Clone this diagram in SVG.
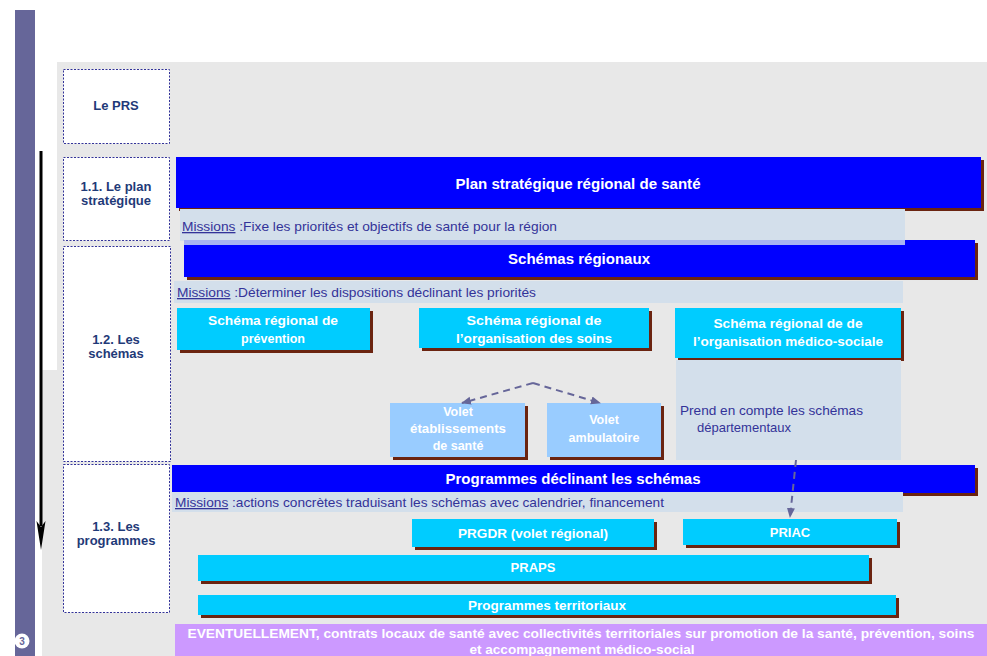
<svg xmlns="http://www.w3.org/2000/svg" width="987" height="656" viewBox="0 0 987 656">
<style>
.lbl{fill:#fff;stroke:#333399;stroke-width:1;stroke-dasharray:2 1.5}
.lt{font-family:"Liberation Sans",Arial,sans-serif;font-weight:bold;font-size:13px;fill:#1f3a78;text-anchor:middle}
.blue{fill:#0000ff}
.sh{fill:#6b2410}
.cyan{fill:#00ccff}
.volet{fill:#99ccff}
.band{fill:#d3dfeb}
.wt{font-family:"Liberation Sans",Arial,sans-serif;font-weight:bold;fill:#fff;text-anchor:middle}
.mt{font-family:"Liberation Sans",Arial,sans-serif;font-size:13px;fill:#333399}
.dash{stroke:#666699;stroke-width:2;stroke-dasharray:7 5;fill:none}
</style>
<defs>
<marker id="ah" markerWidth="10" markerHeight="10" refX="9" refY="5" orient="auto" markerUnits="userSpaceOnUse">
<path d="M0,1 L10,5 L0,9 Z" fill="#666699"/>
</marker>
</defs>
<rect width="987" height="656" fill="#fff"/>
<rect x="57" y="62" width="930" height="594" fill="#e8e8e8"/>
<rect x="42" y="370" width="15" height="286" fill="#e8e8e8"/>
<rect x="15" y="10" width="20" height="646" fill="#666699"/>
<rect x="35" y="600" width="7" height="56" fill="#fff"/>
<circle cx="22" cy="641" r="7.5" fill="#fff"/>
<text x="22" y="645" font-family="Liberation Sans,Arial,sans-serif" font-size="10" font-weight="bold" fill="#666699" text-anchor="middle">3</text>
<g id="timeline">
<line x1="41" y1="151" x2="41" y2="526" stroke="#000" stroke-width="3"/>
<path d="M36.5,521 L41,550 L45.5,521 L41,527 Z" fill="#000"/>
</g>

<g id="le-prs"><rect class="lbl" x="63.5" y="69.5" width="106" height="74"/><text class="lt" x="116" y="110">Le PRS</text></g>
<g id="plan-strat-label"><rect class="lbl" x="63.5" y="157.5" width="106" height="83"/><text class="lt" x="116" y="191">1.1. Le plan</text><text class="lt" x="116" y="205">stratégique</text></g>
<g id="schemas-label"><rect class="lbl" x="63.5" y="246.5" width="107" height="215"/><text class="lt" x="116" y="344">1.2. Les</text><text class="lt" x="116" y="358">schémas</text></g>
<g id="programmes-label"><rect class="lbl" x="63.5" y="464.5" width="106" height="148"/><text class="lt" x="116" y="531">1.3. Les</text><text class="lt" x="116" y="545">programmes</text></g>

<g id="plan-strategique">
<rect class="sh" x="179" y="160" width="805" height="51"/>
<rect class="blue" x="176" y="157" width="805" height="51"/>
<text class="wt" x="578" y="189" font-size="14" textLength="245" lengthAdjust="spacingAndGlyphs">Plan stratégique régional de santé</text>
</g>
<g id="missions-1">
<rect class="band" x="180" y="209" width="725" height="32"/>
<text class="mt" x="182" y="231" textLength="375" lengthAdjust="spacingAndGlyphs"><tspan text-decoration="underline">Missions</tspan> :Fixe les priorités et objectifs de santé pour la région</text>
</g>
<g id="schemas-regionaux">
<rect class="sh" x="187" y="243" width="791" height="37"/>
<rect class="blue" x="184" y="240" width="791" height="37"/>
<rect x="184" y="240" width="721" height="5" fill="#a9b3f2"/>
<text class="wt" x="579" y="264" font-size="14" textLength="142" lengthAdjust="spacingAndGlyphs">Schémas régionaux</text>
</g>
<g id="missions-2">
<rect class="band" x="174" y="281" width="729" height="22"/>
<text class="mt" x="177" y="297" textLength="359" lengthAdjust="spacingAndGlyphs"><tspan text-decoration="underline">Missions</tspan> :Déterminer les dispositions déclinant les priorités</text>
</g>
<g id="schema-prevention">
<rect class="sh" x="180" y="311" width="193" height="42"/>
<rect class="cyan" x="177" y="308" width="193" height="42"/>
<text class="wt" x="273" y="325" font-size="12.5" textLength="130" lengthAdjust="spacingAndGlyphs">Schéma régional de</text>
<text class="wt" x="273" y="343" font-size="12.5">prévention</text>
</g>
<g id="schema-soins">
<rect class="sh" x="422" y="311" width="230" height="40"/>
<rect class="cyan" x="419" y="308" width="230" height="40"/>
<text class="wt" x="534" y="325" font-size="12.5" textLength="135" lengthAdjust="spacingAndGlyphs">Schéma  régional de</text>
<text class="wt" x="534" y="343" font-size="12.5" textLength="156" lengthAdjust="spacingAndGlyphs">l’organisation des soins</text>
</g>
<g id="schema-medico-social">
<rect class="sh" x="678" y="311" width="226" height="50"/>
<rect class="cyan" x="675" y="308" width="226" height="50"/>
<text class="wt" x="788" y="328" font-size="12.5" textLength="149" lengthAdjust="spacingAndGlyphs">Schéma régional de de</text>
<text class="wt" x="788" y="346" font-size="12.5" textLength="190" lengthAdjust="spacingAndGlyphs">l’organisation médico-sociale</text>
</g>
<g id="note-departementaux">
<rect class="band" x="676" y="360" width="225" height="100"/>
<text class="mt" x="680" y="415" textLength="183" lengthAdjust="spacingAndGlyphs">Prend en compte les schémas</text>
<text class="mt" x="697" y="432">départementaux</text>
</g>
<g id="volet-etablissements">
<rect class="sh" x="393" y="406" width="135" height="54"/>
<rect class="volet" x="390" y="403" width="135" height="54"/>
<text class="wt" x="458" y="416" font-size="12.5">Volet</text>
<text class="wt" x="458" y="433" font-size="12.5" textLength="96" lengthAdjust="spacingAndGlyphs">établissements</text>
<text class="wt" x="458" y="450" font-size="12.5">de santé</text>
</g>
<g id="volet-ambulatoire">
<rect class="sh" x="550" y="406" width="114" height="54"/>
<rect class="volet" x="547" y="403" width="114" height="54"/>
<text class="wt" x="604" y="424" font-size="12.5">Volet</text>
<text class="wt" x="604" y="442" font-size="12.5">ambulatoire</text>
</g>
<g id="programmes-declinant">
<rect class="sh" x="175" y="468" width="803" height="28"/>
<rect class="blue" x="172" y="465" width="803" height="28"/>
<text class="wt" x="573" y="484" font-size="14" textLength="255" lengthAdjust="spacingAndGlyphs">Programmes déclinant les schémas</text>
</g>
<g id="missions-3">
<rect class="band" x="172" y="492" width="731" height="20"/>
<text class="mt" x="175" y="507" textLength="489" lengthAdjust="spacingAndGlyphs"><tspan text-decoration="underline">Missions</tspan> :actions concrètes traduisant les schémas avec calendrier, financement</text>
</g>
<g id="prgdr">
<rect class="sh" x="415" y="522" width="242" height="28"/>
<rect class="cyan" x="412" y="519" width="242" height="28"/>
<text class="wt" x="533" y="538" font-size="13" textLength="150" lengthAdjust="spacingAndGlyphs">PRGDR (volet régional)</text>
</g>
<g id="priac">
<rect class="sh" x="686" y="522" width="214" height="26"/>
<rect class="cyan" x="683" y="519" width="214" height="26"/>
<text class="wt" x="790" y="537" font-size="13">PRIAC</text>
</g>
<g id="praps">
<rect class="sh" x="201" y="558" width="671" height="26"/>
<rect class="cyan" x="198" y="555" width="671" height="26"/>
<text class="wt" x="533" y="572" font-size="13">PRAPS</text>
</g>
<g id="programmes-territoriaux">
<rect class="sh" x="201" y="598" width="698" height="20"/>
<rect class="cyan" x="198" y="595" width="698" height="20"/>
<text class="wt" x="547" y="610" font-size="13" textLength="158" lengthAdjust="spacingAndGlyphs">Programmes territoriaux</text>
</g>
<g id="eventuellement">
<rect x="175" y="624" width="812" height="32" fill="#cc99ff"/>
<text class="wt" x="581" y="638" font-size="13" textLength="787" lengthAdjust="spacingAndGlyphs">EVENTUELLEMENT, contrats locaux de santé avec collectivités territoriales sur promotion de la santé, prévention, soins</text>
<text class="wt" x="582" y="654" font-size="13" textLength="225" lengthAdjust="spacingAndGlyphs">et accompagnement médico-social</text>
</g>

<g id="connectors">
<path class="dash" d="M533,383 L462,403" marker-end="url(#ah)"/>
<path class="dash" d="M533,383 L600,403" marker-end="url(#ah)"/>
<path class="dash" d="M796,460 L790,517" marker-end="url(#ah)"/>
</g>
</svg>
